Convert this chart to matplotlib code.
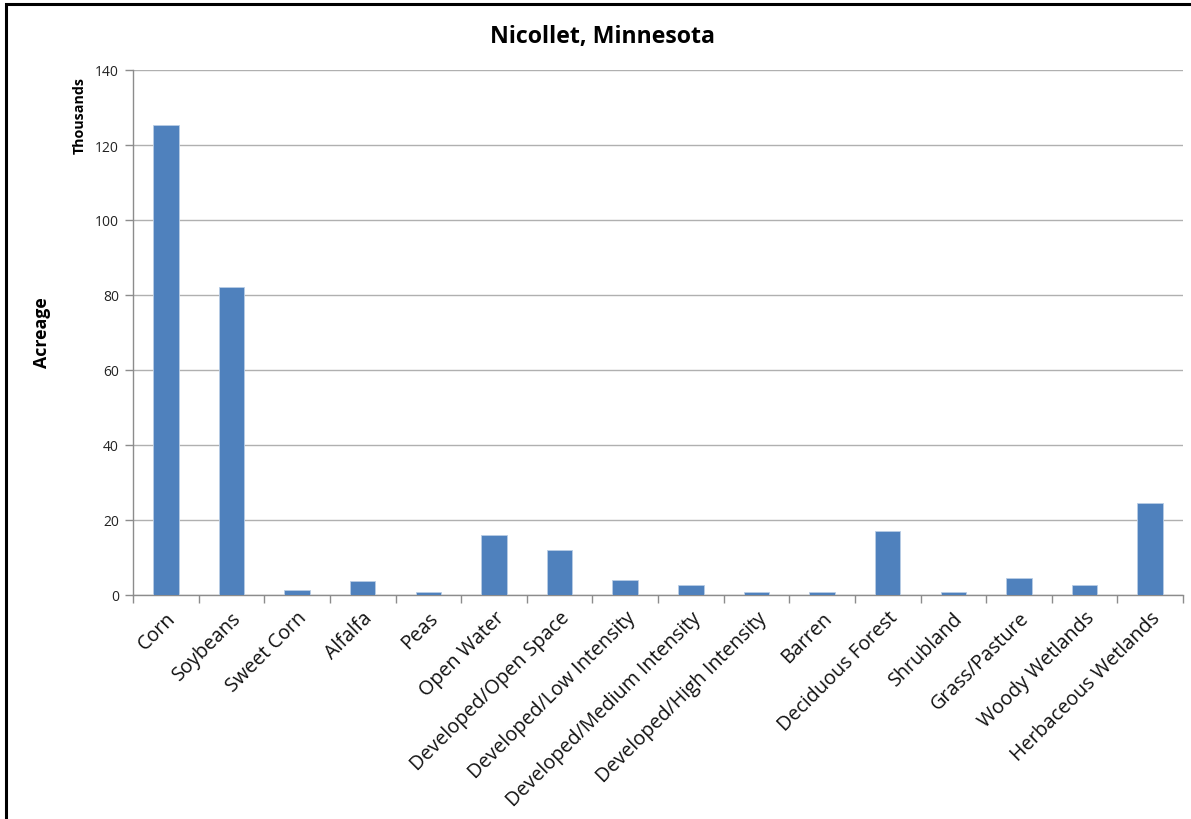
import matplotlib
matplotlib.use("Agg")
import matplotlib.pyplot as plt
from matplotlib.patches import Rectangle

# Land cover acreage (thousands of acres), Nicollet County, Minnesota
categories = [
    "Corn", "Soybeans", "Sweet Corn", "Alfalfa", "Peas", "Open Water",
    "Developed/Open Space", "Developed/Low Intensity",
    "Developed/Medium Intensity", "Developed/High Intensity", "Barren",
    "Deciduous Forest", "Shrubland", "Grass/Pasture", "Woody Wetlands",
    "Herbaceous Wetlands",
]
acreage_thousands = [
    125.3, 82.1, 1.3, 3.7, 0.7, 16.0,
    12.0, 4.1,
    2.8, 0.7, 0.7,
    17.0, 0.7, 4.5, 2.7,
    24.5,
]
y_ticks = [0, 20, 40, 60, 80, 100, 120, 140]

plt.rcParams["font.family"] = ["Open Sans", "DejaVu Sans"]

W, H = 1191, 820
fig = plt.figure(figsize=(W / 100, H / 100), dpi=100)
ax = fig.add_axes([133 / W, 1 - 596 / H, (1183 - 133) / W, (596 - 71) / H])

bar_color = "#4F81BD"
x = range(len(categories))
ax.bar(x, acreage_thousands, width=0.39, color=bar_color,
       edgecolor="#B9CDE5", linewidth=0.6, zorder=3)

ax.set_xlim(-0.5, len(categories) - 0.5)
ax.set_ylim(0, 140)
ax.set_yticks(y_ticks)
ax.set_yticklabels([str(v) for v in y_ticks], fontsize=10, color="#222222")
ax.grid(axis="y", color="#B0B0B0", linewidth=1.0, zorder=0)

# category boundaries carry the x tick marks
ax.set_xticks([i - 0.5 for i in range(len(categories) + 1)], minor=False)
ax.set_xticklabels([])
ax.set_xticks(list(x), minor=True)
ax.set_xticklabels(categories, minor=True, rotation=45, ha="right",
                   rotation_mode="anchor", fontsize=14.2, color="#111111")
ax.tick_params(axis="x", which="major", length=6, color="#8C8C8C", width=1)
ax.tick_params(axis="x", which="minor", length=0, pad=9)
ax.tick_params(axis="y", length=6, color="#8C8C8C", width=1, pad=4)

for side in ("top", "right"):
    ax.spines[side].set_visible(False)
for side in ("left", "bottom"):
    ax.spines[side].set_color("#8C8C8C")
    ax.spines[side].set_linewidth(1)

fig.text(603 / W, 1 - 37 / H, "Nicollet, Minnesota", ha="center", va="center",
         fontsize=16.7, fontweight="bold")
fig.text(80 / W, 1 - 116 / H, "Thousands", ha="center", va="center",
         rotation=90, fontsize=10.3, fontweight="bold")
fig.text(42 / W, 1 - 333 / H, "Acreage", ha="center", va="center",
         rotation=90, fontsize=12.8, fontweight="bold")

# chart frame
fig.patches.append(Rectangle((6 / W, -0.05), 1.1, 1 - 5 / H + 0.05,
                             transform=fig.transFigure, fill=False,
                             edgecolor="black", linewidth=2.2))

fig.savefig("out.png", dpi=100)
